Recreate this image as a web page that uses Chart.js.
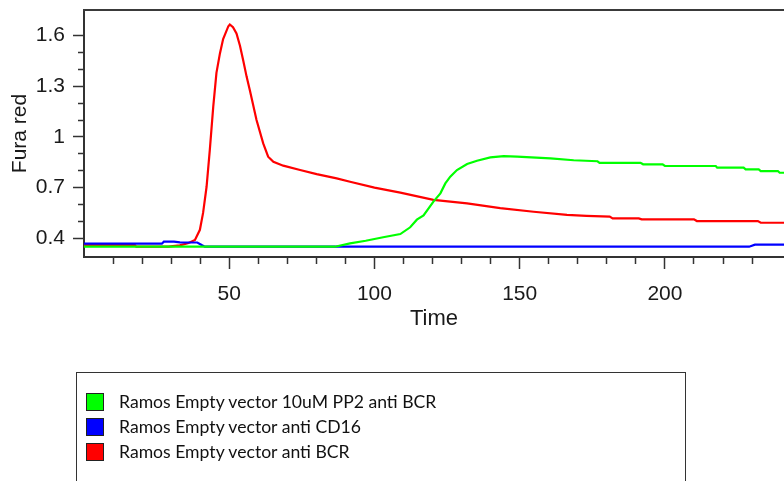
<!DOCTYPE html>
<html>
<head>
<meta charset="utf-8">
<script src="https://cdn.jsdelivr.net/npm/chart.js@4"></script>
<style>
  html, body { margin: 0; padding: 0; background: #fff; overflow: hidden; }
  #wrap { position: relative; width: 784px; height: 481px; }
  #c { position: absolute; left: 0; top: 0; }
  #legend { position: absolute; left: 76px; top: 372px; width: 610px; height: 140px;
            border: 1.5px solid #333; box-sizing: border-box; font-family: Lato, "Liberation Sans", sans-serif;
            font-size: 17.6px; color: #111; }
  .item { position: absolute; left: 9px; height: 20px; }
  .sw { position: absolute; left: 0; top: 0; width: 18px; height: 18px; border: 1px solid #222; box-sizing: border-box; }
  .lbl { position: absolute; left: 33px; top: -1px; white-space: nowrap; line-height: 20px; }
</style>
</head>
<body>
<div id="wrap">
  <canvas id="c" width="784" height="481"></canvas>
  <div id="legend"></div>
</div>
<script>
// ---- data ----
const seriesNames = [
  "Ramos Empty vector 10uM PP2 anti BCR",
  "Ramos Empty vector anti CD16",
  "Ramos Empty vector anti BCR"
];
const seriesColors = ["#00ff00", "#0000ff", "#ff0000"];

const greenTime  = [0, 86.4, 91.6, 97, 103, 108.9, 112.3, 114.6, 116.9, 120.3, 122.7, 124.4, 126.1, 128.4, 131.9, 135.3, 139.9, 144.5, 149.1, 160.6, 168.6, 176.8, 177.5, 191.6, 192.5, 199.2, 200, 217.5, 218, 227.1, 227.8, 232.3, 233, 238.9, 239.5, 241];
const greenValue = [0.35, 0.35, 0.37, 0.385, 0.406, 0.425, 0.465, 0.51, 0.535, 0.617, 0.666, 0.725, 0.765, 0.804, 0.84, 0.859, 0.879, 0.887, 0.883, 0.873, 0.862, 0.856, 0.847, 0.847, 0.838, 0.838, 0.828, 0.828, 0.818, 0.818, 0.808, 0.808, 0.798, 0.798, 0.788, 0.788];

const blueTime  = [0, 26.8, 27.5, 31, 33, 39, 40.5, 41.6, 229, 231, 241];
const blueValue = [0.368, 0.368, 0.38, 0.38, 0.376, 0.375, 0.36, 0.35, 0.35, 0.362, 0.362];

const redTime  = [0, 17.5, 18, 29, 33, 36, 38.2, 39.9, 41, 42.2, 43.3, 44.5, 45.6, 46.8, 47.9, 49.7, 50.2, 51.3, 52.5, 53.7, 54.8, 56, 57.1, 59.4, 61.7, 63.4, 65.2, 68.6, 74.4, 80.1, 87, 91.6, 100, 108.9, 120.3, 131.9, 143.3, 154.8, 166.3, 173, 181, 182, 191, 192, 210, 211, 232, 233, 241];
const redValue = [0.36, 0.36, 0.35, 0.35, 0.358, 0.372, 0.39, 0.45, 0.55, 0.705, 0.92, 1.18, 1.38, 1.495, 1.58, 1.656, 1.666, 1.65, 1.613, 1.54, 1.455, 1.356, 1.277, 1.1, 0.962, 0.883, 0.853, 0.83, 0.804, 0.78, 0.755, 0.735, 0.7, 0.67, 0.627, 0.607, 0.578, 0.557, 0.538, 0.533, 0.528, 0.518, 0.518, 0.512, 0.512, 0.502, 0.502, 0.492, 0.492];

const yMajorLabels = [0.4, 0.7, 1, 1.3, 1.6];
const xMajorLabels = [50, 100, 150, 200];
const xTitle = "Time";
const yTitle = "Fura red";

// ---- build ----
function pts(t, v) { return t.map((x, i) => ({ x: x, y: v[i] })); }
const seriesData = [pts(greenTime, greenValue), pts(blueTime, blueValue), pts(redTime, redValue)];

const datasets = seriesData.map((d, i) => ({
  label: seriesNames[i],
  data: d,
  borderColor: seriesColors[i],
  backgroundColor: seriesColors[i],
  borderWidth: 2.2,
  pointRadius: 0,
  tension: 0,
  fill: false
}));

const near = (a, b) => Math.abs(a - b) < 1e-6;
const isMajorY = v => yMajorLabels.some(m => near(m, v));
const isMajorX = v => xMajorLabels.some(m => near(m, v));
const onStep = (v, s) => near(Math.round(v / s) * s, v);

function zeroPad(s) { s.paddingTop = 0; s.paddingBottom = 0; s.paddingLeft = 0; s.paddingRight = 0; }

const frame = {
  id: 'frame',
  afterDraw(chart) {
    const { ctx, chartArea: a } = chart;
    ctx.save();
    ctx.strokeStyle = '#3a3a3a';
    ctx.lineWidth = 2;
    ctx.beginPath();
    ctx.moveTo(a.left - 1, a.top);
    ctx.lineTo(a.right, a.top);
    ctx.stroke();
    ctx.restore();
  }
};

const labelFont = { family: 'Liberation Sans, Arial, sans-serif', size: 21 };

new Chart(document.getElementById('c'), {
  type: 'line',
  data: { datasets },
  plugins: [frame],
  options: {
    responsive: false,
    animation: false,
    layout: { padding: { left: 0, right: 0, top: 10, bottom: 144 } },
    plugins: { legend: { display: false }, tooltip: { enabled: false } },
    scales: {
      x: {
        type: 'linear',
        min: 0, max: 241,
        bounds: 'ticks',
        afterFit(s) { s.height = 80; zeroPad(s); },
        border: { display: true, color: '#333', width: 2 },
        grid: {
          drawOnChartArea: false,
          drawTicks: true,
          tickLength: 12,
          tickWidth: 1.5,
          tickColor: ctx => (ctx.tick && ctx.tick.value > 0 && onStep(ctx.tick.value, 10)) ? '#333' : 'rgba(0,0,0,0)',
          tickBorderDash: ctx => (ctx.tick && isMajorX(ctx.tick.value)) ? [] : [6, 30]
        },
        ticks: {
          stepSize: 10,
          includeBounds: true,
          autoSkip: false,
          maxRotation: 0,
          padding: 13,
          color: '#1a1a1a',
          font: labelFont,
          callback: v => isMajorX(v) ? String(v) : ''
        },
        title: {
          display: true, text: xTitle, color: '#1a1a1a',
          font: { family: 'Liberation Sans, Arial, sans-serif', size: 22 },
          padding: { top: 0, bottom: 5 }
        }
      },
      y: {
        type: 'linear',
        min: 0.289, max: 1.752,
        bounds: 'ticks',
        afterFit(s) { s.width = 84; zeroPad(s); },
        border: { display: true, color: '#333', width: 2 },
        grid: {
          drawOnChartArea: false,
          drawTicks: true,
          tickLength: 11,
          tickWidth: 1.5,
          tickColor: ctx => (ctx.tick && onStep(ctx.tick.value, 0.1)) ? '#333' : 'rgba(0,0,0,0)',
          tickBorderDash: ctx => (ctx.tick && isMajorY(ctx.tick.value)) ? [] : [0, 5, 30, 0]
        },
        ticks: {
          stepSize: 0.1,
          includeBounds: true,
          autoSkip: false,
          padding: 8,
          color: '#1a1a1a',
          font: labelFont,
          callback: v => isMajorY(v) ? String(Math.round(v * 10) / 10) : ''
        },
        title: {
          display: true, text: yTitle, color: '#1a1a1a',
          font: { family: 'Liberation Sans, Arial, sans-serif', size: 21 },
          padding: { top: 8, bottom: 0 }
        }
      }
    }
  }
});

// legend built from the series arrays
const legend = document.getElementById('legend');
const rowTops = [20, 45, 70];
seriesNames.forEach((name, i) => {
  const it = document.createElement('div');
  it.className = 'item';
  it.style.top = rowTops[i] + 'px';
  const sw = document.createElement('div');
  sw.className = 'sw';
  sw.style.background = seriesColors[i];
  const lb = document.createElement('div');
  lb.className = 'lbl';
  lb.textContent = name;
  it.appendChild(sw); it.appendChild(lb);
  legend.appendChild(it);
});
</script>
</body>
</html>
